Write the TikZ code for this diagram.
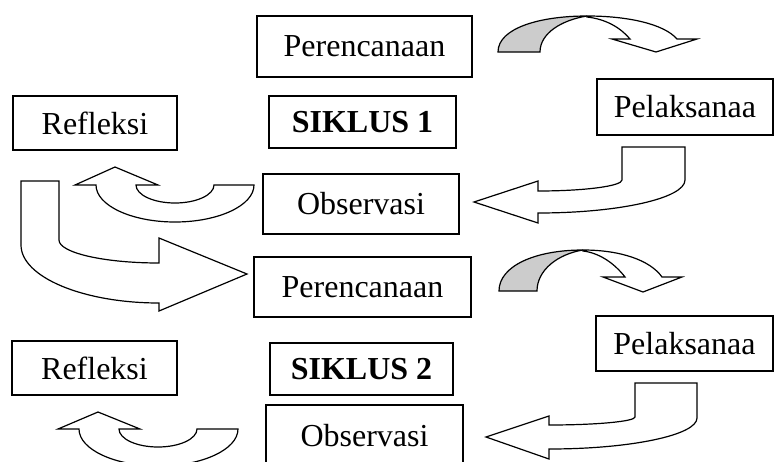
\documentclass[tikz,border=0pt]{standalone}
\usepackage{fontspec}
\setmainfont{Liberation Serif}
\begin{document}
\begin{tikzpicture}[x=1pt,y=-1pt,
  box/.style={draw, line width=1.3pt, inner sep=0pt, font=\fontsize{32}{38}\selectfont},
  blk/.style={draw, fill=white, line width=1.2pt, line join=miter},
  gry/.style={draw, fill=gray!40, line width=1.2pt, line join=miter}]
\clip (0,0) rectangle (774,461);
% ---- boxes
\node[box, minimum width=215pt, minimum height=61pt] (p1) at (364.5,46.5) {Perencanaan};
\node[box, minimum width=187pt, minimum height=52pt] (s1) at (362.5,122) {\bfseries SIKLUS 1};
\node[box, minimum width=164pt, minimum height=54pt] (r1) at (95,123) {Refleksi};
\node[box, minimum width=176pt, minimum height=56pt] (l1) at (685,107) {Pelaksanaa};
\node[box, minimum width=196pt, minimum height=60pt] (o1) at (361,204) {Observasi};
\node[box, minimum width=217pt, minimum height=60pt] (p2) at (362.5,287) {Perencanaan};
\node[box, minimum width=165pt, minimum height=54pt] (r2) at (94.5,368) {Refleksi};
\node[box, minimum width=183pt, minimum height=52pt] (s2) at (361.5,369) {\bfseries SIKLUS 2};
\node[box, minimum width=177pt, minimum height=55pt] (l2) at (684.5,343.5) {Pelaksanaa};
\node[box, minimum width=197pt, minimum height=62pt] (o2) at (364.5,436) {Observasi};
% ---- curved arrows Perencanaan -> Pelaksanaa
\draw[blk] (587,16) .. controls (628,16) and (664,24) .. (677,39) -- (697,39) -- (656,52) -- (612,39) -- (630,39) .. controls (620,27) and (605,19) .. (587,17) -- cycle;
\draw[gry] (498,52) .. controls (498,28) and (540,16) .. (587,16) .. controls (562,20) and (540,33) .. (540,52) -- cycle;
\draw[blk] (583,250) .. controls (620,250) and (650,260) .. (662,277) -- (682,277) -- (643,292) -- (603,277) -- (625,277) .. controls (615,264) and (600,253) .. (583,251) -- cycle;
\draw[gry] (499,291) .. controls (499,266) and (535,250) .. (583,250) .. controls (558,254) and (537,270) .. (537,291) -- cycle;
% ---- bent arrows Pelaksanaa -> Observasi
\draw[blk] (685,147) -- (685,180) .. controls (685,198.2) and (619.2,213) .. (538,213) -- (538,223) -- (474,202) -- (538,181) -- (538,191) .. controls (584.4,191) and (622,186.1) .. (622,180) -- (622,147) -- cycle;
\draw[blk] (697,383) -- (697,418) .. controls (697,435.1) and (630.7,449) .. (549,449) -- (549,459) -- (486,437) -- (549,416) -- (549,425) .. controls (596.5,425) and (635,421.4) .. (635,417) -- (635,383) -- cycle;
% ---- U-turn arrows Observasi -> Refleksi
\draw[blk] (96,185) .. controls (96,205.4) and (131.4,222) .. (175,222) .. controls (218.6,222) and (254,205.4) .. (254,185) -- (214,185) .. controls (214,194.9) and (196.5,203) .. (175,203) .. controls (153.5,203) and (136,194.9) .. (136,185) -- (158,185) -- (115,167) -- (75,185) -- cycle;
\draw[blk] (79,429) .. controls (79,449.4) and (114.6,466) .. (158.5,466) .. controls (202.4,466) and (238,449.4) .. (238,429) -- (197,429) .. controls (197,438.9) and (179.5,447) .. (158,447) .. controls (136.5,447) and (119,438.9) .. (119,429) -- (140,429) -- (98,412) -- (58,429) -- cycle;
% ---- bent arrow Refleksi -> Perencanaan (cycle 2)
\draw[blk] (21,181) -- (21,245) .. controls (21,277) and (83,303) .. (159,303) -- (159,311) -- (247,274) -- (159,238) -- (159,263) .. controls (103.8,263) and (59,252.7) .. (59,240) -- (59,181) -- cycle;
\end{tikzpicture}
\end{document}
